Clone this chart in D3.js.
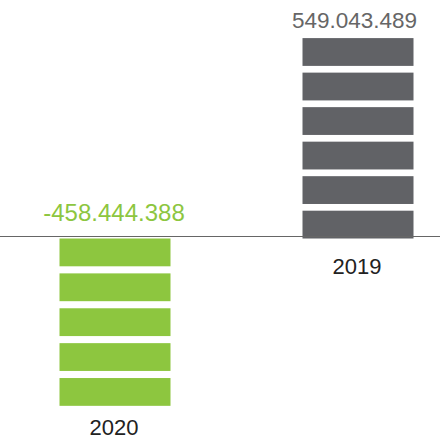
<!DOCTYPE html>
<html>
<head>
<meta charset="utf-8">
<script src="https://cdn.jsdelivr.net/npm/d3@7"></script>
<style>
html,body{margin:0;padding:0;background:#fff;}
svg{display:block;}
text{font-family:"Liberation Sans",Arial,sans-serif;}
</style>
</head>
<body>
<script>
const categories = ["2020", "2019"];
const values = [-458444388, 549043489];
const valueLabels = ["-458.444.388", "549.043.489"];
const colors = ["#8dc63f", "#616266"];
const labelColors = ["#8dc63f", "#666666"];
const unitValue = 1e8; // one block per started 100 million

const W = 440, H = 439;
const svg = d3.select("body").append("svg").attr("width", W).attr("height", H);

const x = d3.scaleBand().domain(categories).range([-6.5, 479.5]).padding(0);
const barW = 111;
const zeroY = 238.5;
const k = 0.365e-6;
const y = d3.scaleLinear().domain([0, 549043489]).range([zeroY, zeroY - 549043489 * k]);

const segH = 27.8;

categories.forEach((c, i) => {
  const v = values[i];
  const cx = x(c) + x.bandwidth() / 2;
  const y0 = Math.min(y(0), y(v));
  const y1 = Math.max(y(0), y(v));
  const L = y1 - y0;
  const n = Math.ceil(Math.abs(v) / unitValue);
  const gap = n > 1 ? (L - n * segH) / (n - 1) : 0;
  const segs = d3.range(n);
  svg.append("g").selectAll("rect").data(segs).join("rect")
    .attr("x", cx - barW / 2)
    .attr("width", barW)
    .attr("y", d => y0 + d * (segH + gap))
    .attr("height", segH)
    .attr("fill", colors[i]);

  // value label above the top of the bar (or above zero for negatives)
  const topY = y(Math.max(0, v));
  svg.append("text")
    .attr("x", cx - (v > 0 ? 3.5 : 1))
    .attr("y", topY - (v > 0 ? 10.5 : 17.5))
    .attr("text-anchor", "middle")
    .attr("font-size", v > 0 ? 22.5 : 24)
    .attr("fill", labelColors[i])
    .text(valueLabels[i]);

  // category label below the bottom
  const botY = y(Math.min(0, v));
  svg.append("text")
    .attr("x", cx - 1)
    .attr("y", botY + (v < 0 ? 29 : 35.5))
    .attr("text-anchor", "middle")
    .attr("font-size", 22)
    .attr("fill", "#222222")
    .text(c);
});

// zero baseline
svg.append("line")
  .attr("x1", 0).attr("x2", W)
  .attr("y1", y(0) - 2).attr("y2", y(0) - 2)
  .attr("stroke", "#666666").attr("stroke-width", 1.2);
</script>
</body>
</html>
